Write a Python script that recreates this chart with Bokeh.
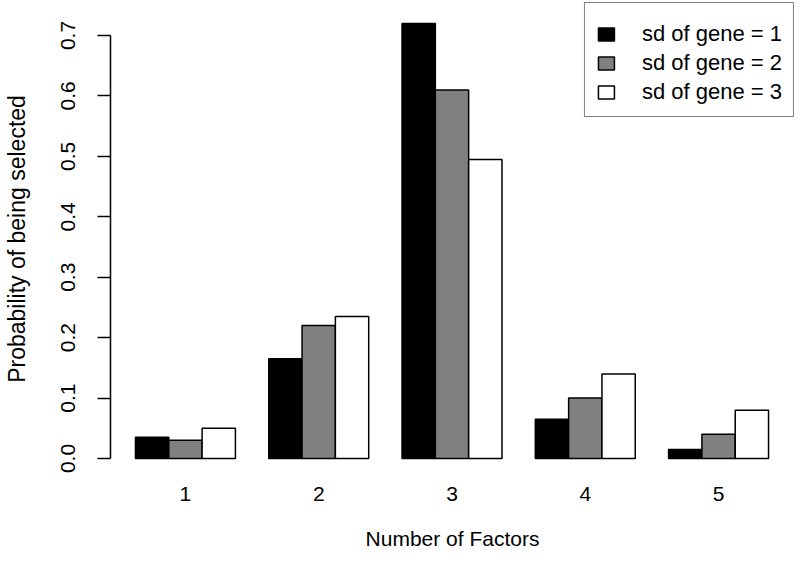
from bokeh.plotting import figure
from bokeh.models import (ColumnDataSource, Range1d, FixedTicker, PrintfTickFormatter,
                          Legend, LegendItem)
from bokeh.embed import file_html
from bokeh.resources import INLINE

# ---- data ----
factors = ["1", "2", "3", "4", "5"]
series_labels = ["sd of gene = 1", "sd of gene = 2", "sd of gene = 3"]
sd1 = [0.035, 0.165, 0.72, 0.065, 0.015]
sd2 = [0.03, 0.22, 0.61, 0.10, 0.04]
sd3 = [0.05, 0.235, 0.495, 0.14, 0.08]
y_ticks = [0.0, 0.1, 0.2, 0.3, 0.4, 0.5, 0.6, 0.7]

series = [sd1, sd2, sd3]
colors = ["#000000", "#808080", "#ffffff"]
FONT = "Liberation Sans"
FS = "21px"

n_series = len(series)
group_span = n_series + 1  # R barplot beside=TRUE, space=c(0,1)

W, H = 794, 562
p = figure(width=W, height=H, output_backend="svg", toolbar_location=None,
           x_range=Range1d(0.2508, 20.779), y_range=Range1d(-0.02813, 0.7546),
           min_border_left=109, min_border_right=0, min_border_top=2,
           min_border_bottom=H - 475)
p.outline_line_color = None
p.xgrid.visible = False
p.ygrid.visible = False
p.background_fill_color = "white"
p.border_fill_color = "white"

renderers = []
for s, vals in enumerate(series):
    xs = [1 + group_span * g + s + 0.5 for g in range(len(factors))]
    src = ColumnDataSource(dict(x=xs, top=vals))
    r = p.vbar(x="x", top="top", bottom=0, width=1.0, source=src,
               fill_color=colors[s], line_color="black", line_width=1.5)
    renderers.append(r)

# x axis: labels only
centers = [1 + group_span * g + n_series / 2 for g in range(len(factors))]
p.xaxis.ticker = FixedTicker(ticks=centers)
p.xaxis.major_label_overrides = {c: f for c, f in zip(centers, factors)}
p.xaxis.axis_line_color = None
p.xaxis.major_tick_line_color = None
p.xaxis.minor_tick_line_color = None
p.xaxis.major_tick_out = 0
p.xaxis.major_label_standoff = 11
p.xaxis.axis_label = "Number of Factors"
p.xaxis.axis_label_standoff = 23

# y axis
p.yaxis.ticker = FixedTicker(ticks=y_ticks)
p.yaxis.formatter = PrintfTickFormatter(format="%.1f")
p.yaxis.bounds = (y_ticks[0], y_ticks[-1])
p.yaxis.minor_tick_line_color = None
p.yaxis.major_tick_out = 13
p.yaxis.major_tick_in = 0
p.yaxis.axis_line_width = 1.5
p.yaxis.major_tick_line_width = 1.5
p.yaxis.major_label_orientation = "vertical"
p.yaxis.major_label_standoff = 22
p.yaxis.axis_label = "Probability of being selected"
p.yaxis.axis_label_standoff = 29

for ax in (p.xaxis[0], p.yaxis[0]):
    ax.major_label_text_font = FONT
    ax.major_label_text_font_size = FS
    ax.major_label_text_color = "black"
    ax.axis_label_text_font = FONT
    ax.axis_label_text_font_size = FS
    ax.axis_label_text_font_style = "normal"
    ax.axis_label_text_color = "black"
p.yaxis.axis_label_text_font_size = "23px"

legend = Legend(items=[LegendItem(label=lab, renderers=[r]) for lab, r in zip(series_labels, renderers)],
                location="top_right", margin=0, padding=11, spacing=3,
                glyph_width=20, glyph_height=16, label_standoff=26, label_height=20,
                label_text_font=FONT, label_text_font_size="22px", label_text_color="black",
                title=" ", title_text_font_size="6px", title_standoff=1,
                border_line_color="black", border_line_width=1.2,
                background_fill_color="white", background_fill_alpha=1.0)
p.add_layout(legend)

open("out.html", "w").write(file_html(p, INLINE))
